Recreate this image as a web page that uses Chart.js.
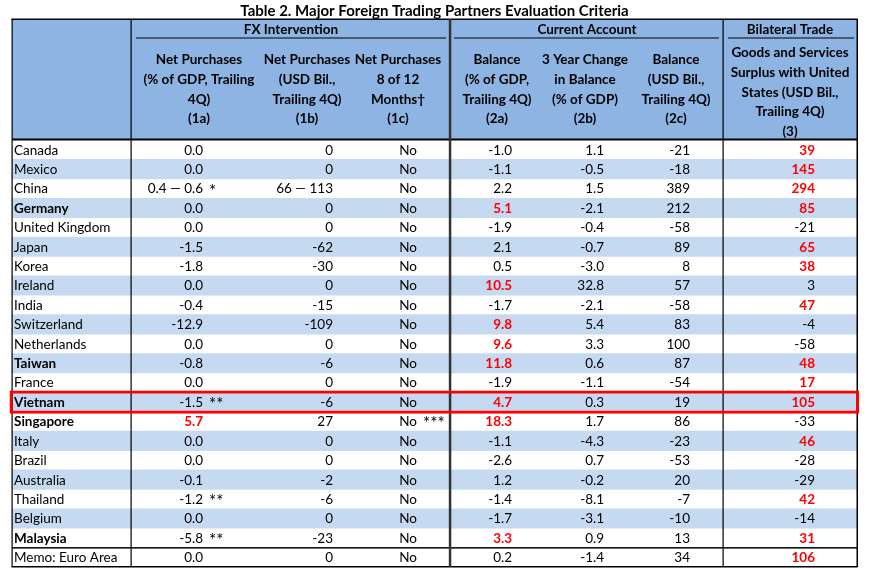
<!DOCTYPE html>
<html>
<head>
<meta charset="utf-8">
<script src="https://cdn.jsdelivr.net/npm/chart.js@4.4.1/dist/chart.umd.min.js"></script>
<style>
  html, body { margin: 0; padding: 0; background: #fff; }
  #wrap { width: 878px; height: 569px; position: relative; }
</style>
</head>
<body>
<div id="wrap"><canvas id="criteria"></canvas></div>
<script>
const countries = ["Canada", "Mexico", "China", "Germany", "United Kingdom", "Japan", "Korea", "Ireland",
  "India", "Switzerland", "Netherlands", "Taiwan", "France", "Vietnam", "Singapore", "Italy", "Brazil",
  "Australia", "Thailand", "Belgium", "Malaysia", "Memo: Euro Area"];
const boldCountries = ["Germany", "Taiwan", "Vietnam", "Singapore", "Malaysia"];
const highlightCountry = "Vietnam";

// (1a) net purchases, % of GDP; (1b) USD bil.; (1c) persistent
const fxPctGdp = [0.0, 0.0, [0.4, 0.6], 0.0, 0.0, -1.5, -1.8, 0.0, -0.4, -12.9, 0.0, -0.8, 0.0, -1.5, 5.7, 0.0, 0.0, -0.1, -1.2, 0.0, -5.8, 0.0];
const fxUsd = [0, 0, [66, 113], 0, 0, -62, -30, 0, -15, -109, 0, -6, 0, -6, 27, 0, 0, -2, -6, 0, -23, 0];
const fxPersistent = ["No", "No", "No", "No", "No", "No", "No", "No", "No", "No", "No", "No", "No", "No", "No", "No", "No", "No", "No", "No", "No", "No"];
const fxNotes = { China: "*", Vietnam: "**", Thailand: "**", Malaysia: "**" };
const persistNotes = { Singapore: "***" };

// (2a) CA balance % of GDP; (2b) 3 year change; (2c) USD bil.
const caPctGdp = [-1.0, -1.1, 2.2, 5.1, -1.9, 2.1, 0.5, 10.5, -1.7, 9.8, 9.6, 11.8, -1.9, 4.7, 18.3, -1.1, -2.6, 1.2, -1.4, -1.7, 3.3, 0.2];
const caChange = [1.1, -0.5, 1.5, -2.1, -0.4, -0.7, -3.0, 32.8, -2.1, 5.4, 3.3, 0.6, -1.1, 0.3, 1.7, -4.3, 0.7, -0.2, -8.1, -3.1, 0.9, -1.4];
const caUsd = [-21, -18, 389, 212, -58, 89, 8, 57, -58, 83, 100, 87, -54, 19, 86, -23, -53, 20, -7, -10, 13, 34];

// (3) goods and services surplus with US
const tradeSurplus = [39, 145, 294, 85, -21, 65, 38, 3, 47, -4, -58, 48, 17, 105, -33, 46, -28, -29, 42, -14, 31, 106];

// thresholds that turn a value red
const fxLimit = 2, caLimit = 3, tradeLimit = 15;

const FONT = "Lato, 'Noto Sans', sans-serif";
const RED = "#FF0000";
const TABLE_W = 845;

const fmt1 = v => Array.isArray(v) ? v[0].toFixed(1) + " \u2014 " + v[1].toFixed(1) : v.toFixed(1);
const fmt0 = v => Array.isArray(v) ? v[0] + " \u2014 " + v[1] : String(v);
const fmtS = v => v;

const bodyCols = [
  { values: fxPctGdp, right: 191, fmt: fmt1, red: v => !Array.isArray(v) && v >= fxLimit, notes: fxNotes },
  { values: fxUsd, right: 321, fmt: fmt0 },
  { values: fxPersistent, right: 405, fmt: fmtS, notes: persistNotes },
  { values: caPctGdp, right: 500, fmt: fmt1, red: v => v >= caLimit },
  { values: caChange, right: 592, fmt: fmt1 },
  { values: caUsd, right: 678, fmt: fmt0 },
  { values: tradeSurplus, right: 803, fmt: fmt0, red: v => v >= tradeLimit }
];

const headCols = [
  { x: 187, lines: ["Net Purchases", "(% of GDP, Trailing", "4Q)", "(1a)"] },
  { x: 295, lines: ["Net Purchases", "(USD Bil.,", "Trailing 4Q)", "(1b)"] },
  { x: 386, lines: ["Net Purchases", "8 of 12", "Months\u2020", "(1c)"] },
  { x: 485, lines: ["Balance", "(% of GDP,", "Trailing 4Q)", "(2a)"] },
  { x: 573, lines: ["3 Year Change", "in Balance", "(% of GDP)", "(2b)"] },
  { x: 664, lines: ["Balance", "(USD Bil.,", "Trailing 4Q)", "(2c)"] },
  { x: 778, lines: ["Goods and Services", "Surplus with United", "States (USD Bil.,", "Trailing 4Q)", "(3)"] }
];
const groups = [
  { label: "FX Intervention", x: 279, from: 124, to: 434 },
  { label: "Current Account", x: 575, from: 442, to: 707 },
  { label: "Bilateral Trade", x: 778, from: 716, to: 842 }
];

const tablePlugin = {
  id: "tablePlugin",
  beforeDatasetsDraw(chart) {
    const { ctx, chartArea: a, scales: { x } } = chart;
    const top = a.top;
    ctx.save();
    // title
    ctx.fillStyle = "#000";
    ctx.font = "bold 15px " + FONT;
    ctx.textAlign = "center";
    ctx.textBaseline = "middle";
    ctx.fillText("Table 2. Major Foreign Trading Partners Evaluation Criteria", x.getPixelForValue(TABLE_W / 2), top - 129);
    // header background
    ctx.fillStyle = "#8DB4E2";
    ctx.fillRect(x.getPixelForValue(0), top - 121, x.getPixelForValue(TABLE_W) - x.getPixelForValue(0), 121);
    ctx.fillStyle = "#000";
    ctx.font = "bold 13.5px " + FONT;
    groups.forEach(g => {
      ctx.fillText(g.label, x.getPixelForValue(g.x), top - 110);
      ctx.fillRect(x.getPixelForValue(g.from), top - 102.5, x.getPixelForValue(g.to) - x.getPixelForValue(g.from), 1);
    });
    headCols.forEach(h => {
      const y0 = h.lines.length === 5 ? top - 87 : top - 80;
      h.lines.forEach((t, k) => ctx.fillText(t, x.getPixelForValue(h.x), y0 + k * 19.6));
    });
    ctx.restore();
  },
  afterDatasetDraw(chart, args) {
    if (args.index !== 0) return;
    const { ctx, chartArea: a, scales: { x, y } } = chart;
    const headTop = a.top - 121;
    const L = x.getPixelForValue(0), R = x.getPixelForValue(TABLE_W);
    ctx.save();
    ctx.fillStyle = "#000";
    // outer borders
    ctx.fillRect(L - 0.5, headTop - 0.5, R - L + 1, 1.5);
    ctx.fillRect(L - 0.5, a.bottom - 1, R - L + 1, 1.5);
    ctx.fillRect(L - 0.5, headTop, 1.2, a.bottom - headTop);
    ctx.fillRect(R - 0.5, headTop, 1.5, a.bottom - headTop);
    // header bottom
    ctx.fillRect(L, a.top - 1.5, R - L, 2);
    // memo separator
    const memoTop = y.getPixelForValue(countries.length - 1) - (y.getPixelForValue(1) - y.getPixelForValue(0)) / 2;
    ctx.fillRect(L, memoTop - 0.5, R - L, 1.5);
    // column separators
    ctx.fillRect(x.getPixelForValue(119) - 0.5, headTop, 1.2, a.bottom - headTop);
    ctx.fillStyle = "#333";
    ctx.fillRect(x.getPixelForValue(438) - 1.2, headTop, 2.5, a.bottom - headTop);
    ctx.fillStyle = "#000";
    ctx.fillRect(x.getPixelForValue(711) - 0.5, headTop, 1.2, a.bottom - headTop);
    ctx.restore();
  },
  afterDatasetsDraw(chart) {
    const { ctx, scales: { x, y } } = chart;
    ctx.save();
    ctx.textBaseline = "middle";
    countries.forEach((name, i) => {
      const py = y.getPixelForValue(i) + 0.5;
      ctx.fillStyle = "#000";
      ctx.textAlign = "left";
      ctx.font = (boldCountries.includes(name) ? "bold " : "") + "13.5px " + FONT;
      ctx.fillText(name, x.getPixelForValue(2), py);
      bodyCols.forEach(c => {
        const v = c.values[i];
        const isRed = c.red ? c.red(v) : false;
        ctx.font = (isRed ? "bold " : "") + "13.5px " + FONT;
        ctx.fillStyle = isRed ? RED : "#000";
        ctx.textAlign = "right";
        const px = x.getPixelForValue(c.right);
        ctx.fillText(c.fmt(v), px, py);
        if (c.notes && c.notes[name]) {
          // footnote stars, a touch larger so they read like the source
          ctx.font = "17px " + FONT;
          ctx.fillStyle = "#000";
          ctx.textAlign = "left";
          ctx.fillText(c.notes[name], px + 6, py + 2);
        }
      });
    });
    ctx.restore();
  }
};

new Chart(document.getElementById("criteria").getContext("2d"), {
  type: "bar",
  data: {
    labels: countries,
    datasets: [
      {
        label: "rows",
        data: countries.map((c, i) => (i % 2 === 1 && i < countries.length - 1) ? [0, TABLE_W] : null),
        backgroundColor: "#C5D9F1",
        borderWidth: 0,
        barPercentage: 1,
        categoryPercentage: 1,
        grouped: false,
        order: 2
      },
      {
        label: "highlight",
        data: countries.map(c => c === highlightCountry ? [-2.5, TABLE_W + 2] : null),
        backgroundColor: "rgba(0,0,0,0)",
        borderColor: RED,
        borderWidth: 3,
        borderSkipped: false,
        barPercentage: 1.2,
        categoryPercentage: 1,
        grouped: false,
        order: 1
      }
    ]
  },
  options: {
    indexAxis: "y",
    responsive: true,
    maintainAspectRatio: false,
    animation: false,
    // x runs from -3 to 848, so 1 unit = 1px and 0 lands on the table's left edge
    layout: { padding: { left: 9, right: 18, top: 140, bottom: 2 } },
    scales: {
      x: { type: "linear", min: -3, max: TABLE_W + 3, display: false },
      y: { type: "category", display: false, offset: true }
    },
    plugins: { legend: { display: false }, tooltip: { enabled: false } }
  },
  plugins: [tablePlugin]
});
</script>
</body>
</html>
